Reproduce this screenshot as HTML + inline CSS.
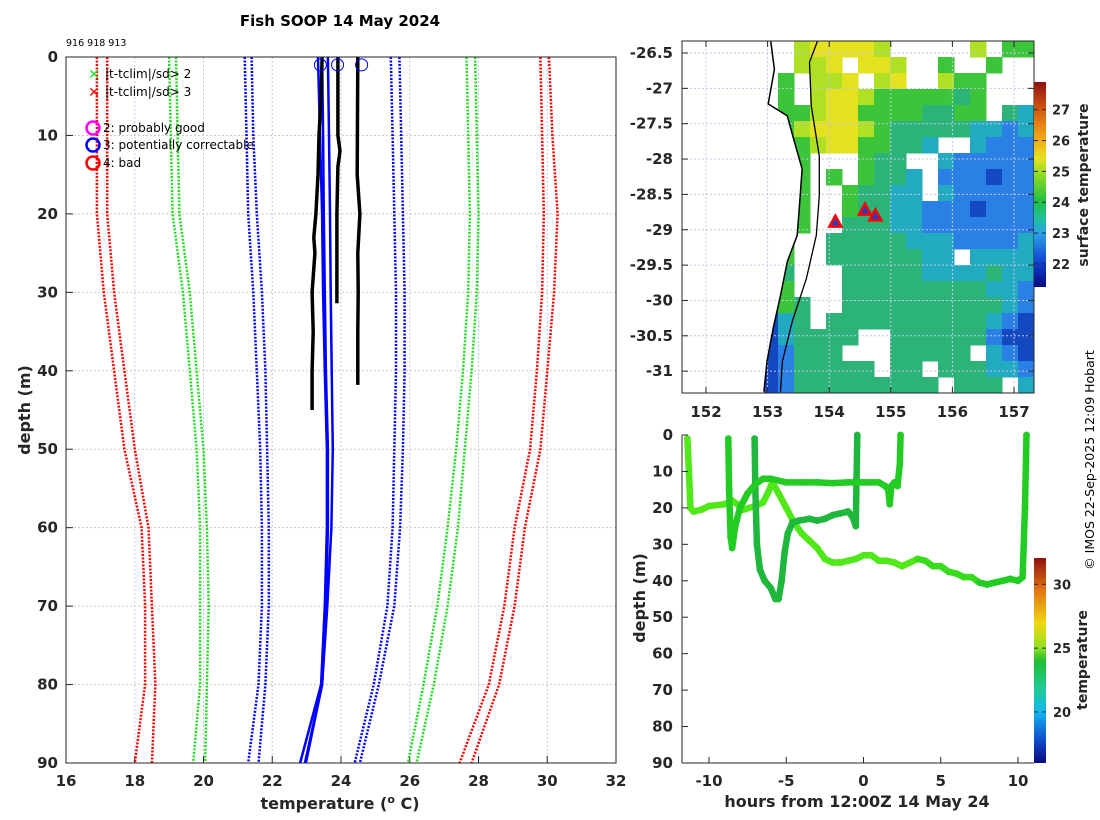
<!DOCTYPE html>
<html><head><meta charset="utf-8"><style>
body{margin:0;background:#fff;}
svg{display:block;font-family:"DejaVu Sans","Liberation Sans",sans-serif;}
.tk{font-size:15px;font-weight:bold;fill:#262626;}
.lg{font-size:12px;fill:#000;}
</style></head><body>
<svg id="fig" width="1100" height="820" viewBox="0 0 1100 820" xmlns="http://www.w3.org/2000/svg">
<defs>
<linearGradient id="sstgrad" x1="0" y1="1" x2="0" y2="0">
<stop offset="0" stop-color="#0a0a80"/><stop offset="0.12" stop-color="#1040d0"/><stop offset="0.26" stop-color="#2aa0e8"/><stop offset="0.33" stop-color="#20c0a0"/><stop offset="0.42" stop-color="#20c040"/><stop offset="0.56" stop-color="#9be020"/><stop offset="0.63" stop-color="#e8e020"/><stop offset="0.74" stop-color="#f0a010"/><stop offset="0.88" stop-color="#d05010"/><stop offset="1" stop-color="#901010"/>
</linearGradient>
<linearGradient id="tgrad" x1="0" y1="1" x2="0" y2="0">
<stop offset="0" stop-color="#0a0a80"/><stop offset="0.12" stop-color="#1050d0"/><stop offset="0.25" stop-color="#10b8f0"/><stop offset="0.35" stop-color="#20c8a0"/><stop offset="0.5" stop-color="#20c030"/><stop offset="0.56" stop-color="#90e020"/><stop offset="0.68" stop-color="#f0d810"/><stop offset="0.85" stop-color="#e07010"/><stop offset="1" stop-color="#901010"/>
</linearGradient>
<clipPath id="ocean"><path id="oceanpath" d=""/></clipPath>
<clipPath id="leftclip"><rect x="66" y="57" width="550" height="706"/></clipPath>
</defs>
<text x="340" y="26" text-anchor="middle" style="font-size:15px;font-weight:bold">Fish SOOP 14 May 2024</text>
<text x="66" y="46" style="font-size:9.5px">916 918 913</text>
<g id="left"></g>
<g id="map"></g>
<g id="sect"></g>
<text transform="translate(1094,460) rotate(-90)" text-anchor="middle" style="font-size:12.5px">© IMOS 22-Sep-2025 12:09 Hobart</text>
</svg>
<script>
const NS="http://www.w3.org/2000/svg";
// ---------- Left panel data ----------
const climDepths=[0,10,20,30,40,50,60,70,80,90];
const redL1=[16.9,16.9,16.9,17.1,17.4,17.7,18.2,18.3,18.3,18.0];
const redL2=[17.2,17.2,17.2,17.4,17.7,18.0,18.4,18.5,18.6,18.5];
const greenL1=[19.0,19.05,19.1,19.4,19.6,19.8,19.9,19.9,19.9,19.7];
const greenL2=[19.2,19.25,19.3,19.6,19.8,20.0,20.1,20.15,20.1,20.05];
const blueL1=[21.2,21.25,21.3,21.45,21.55,21.65,21.7,21.7,21.6,21.3];
const blueL2=[21.4,21.45,21.55,21.7,21.8,21.85,21.9,21.9,21.8,21.6];
const blueR1=[25.45,25.5,25.55,25.6,25.6,25.55,25.5,25.35,24.95,24.4];
const blueR2=[25.7,25.75,25.8,25.85,25.85,25.8,25.72,25.55,25.1,24.55];
const greenR1=[27.65,27.7,27.75,27.7,27.55,27.35,27.1,26.8,26.4,25.95];
const greenR2=[27.9,27.95,28.0,27.95,27.8,27.6,27.4,27.1,26.7,26.2];
const redR1=[29.8,29.85,29.9,29.85,29.7,29.5,29.05,28.75,28.3,27.45];
const redR2=[30.05,30.15,30.3,30.2,30.0,29.8,29.35,29.05,28.6,27.8];
const blueP1=[23.33,23.39,23.45,23.48,23.53,23.59,23.59,23.53,23.42,22.81];
const blueP2=[23.45,23.48,23.5,23.53,23.56,23.62,23.62,23.56,23.45,22.98];
const blueP3=[23.62,23.65,23.68,23.7,23.73,23.76,23.72,23.6,23.45,22.95];
const blk1Depth=[0,5,10,15,20,23,25,30,35,40,45];
const blk1Temp=[23.45,23.42,23.36,23.33,23.27,23.21,23.24,23.16,23.19,23.16,23.16];
const blk2Depth=[0,10,12,14,20,31.4];
const blk2Temp=[23.91,23.91,23.97,23.91,23.88,23.88];
const blk3Depth=[0,15,20,25,30,35,41.8];
const blk3Temp=[24.49,24.47,24.55,24.49,24.5,24.49,24.49];
const flagTemps=[23.4,23.9,24.6];
const flagDepths=[1,1,1];
const tTicks=[16,18,20,22,24,26,28,30,32];
const dTicks=[0,10,20,30,40,50,60,70,80,90];

// ---------- Map data ----------
const lonTicks=[152,153,154,155,156,157];
const latTicks=[-26.5,-27,-27.5,-28,-28.5,-29,-29.5,-30,-30.5,-31];
const sstTicks=[22,23,24,25,26,27];
const dropLons=[154.1,154.58,154.75];
const dropLats=[-28.9,-28.73,-28.81];
const sstRows=[
"       lyyyyl     l gg",
"       lly yyl  g  g  ",
"      g lly ly  lgg   ",
"      g lyylgggggmg   ",
"      gglyyggggmmgg mt",
"     mglyyylgmmmmmttbt",
"     mgglyyggmmt  tbbb",
"     mgg   gmm  tbbbbb",
"     mgg g gmmt bbbdbb",
"     tgg  gmmtt tbbbbb",
"     tgg  gmmttbbbdbbb",
"     tgg  mmmttbbbbbbb",
"     tg  mmmmmtttbbbbt",
"     dg  mmmmmmtt tttt",
"     dm   mmmmmttttmtt",
"     dg   mmmmmmmmmttb",
"     dgm  mmmmmmmmmmtb",
"     dtm mmmmmmmmmmtbd",
"     dtmmmm  mmmmmmbdd",
"     dbmmm   mmmmm tbd",
"     dbmmmmm mm mmmttb",
"     dbmmmmmmmmm mmm t"];
const sstColors={y:"#e4e21e",l:"#b0e024",g:"#3cc43a",m:"#2cb478",t:"#22aac0",b:"#2a80e4",d:"#1448c0"};
const coastLon=[153.05,153.11,153.01,153.32,153.42,153.56,153.53,153.48,153.32,153.21,153.09,152.99,152.94];
const coastLat=[-26.33,-26.73,-27.22,-27.39,-27.71,-28.14,-28.52,-29.08,-29.45,-29.93,-30.4,-30.86,-31.29];
const isoLon=[153.81,153.68,153.71,153.84,153.84,153.79,153.63,153.4,153.24,153.21];
const isoLat=[-26.33,-26.63,-27.25,-27.96,-28.52,-29.08,-29.69,-30.3,-30.86,-31.29];

// ---------- Section data ----------
const hTicks=[-10,-5,0,5,10];
const sdTicks=[0,10,20,30,40,50,60,70,80,90];
const tcTicks=[20,25,30];
const tr1Hours=[-11.4,-11.3,-11.2,-11,-10.5,-10,-9,-8.5,-8,-7.8,-7,-6.5,-6.2,-5.9,-5.5,-5,-4.5,-4,-3.5,-3,-2.5,-2,-1.5,-1,-0.5,0,0.5,1,1.5,2,2.5,3,3.5,4,4.5,5,5.5,6,6.5,7,7.5,8,8.5,9,9.5,10,10.3,10.45,10.55];
const tr1Depth=[1,10,20,21,20.5,19.5,19,18,19.5,20.5,19.5,18.5,16,13,16,20,24,27,29,31,34,35,35,34.5,34,33,33,34.5,34.5,35,36,35,34,34.5,36,36,37.5,38,39,39,40.5,41,40.5,40,39.5,40,39,20,0];
const tr1Temp=[24.6,24.6,24.6,24.6,24.6,24.6,24.6,24.6,24.6,24.6,24.6,24.6,24.6,24.6,24.6,24.6,24.6,24.6,24.6,24.6,24.7,24.7,24.7,24.7,24.7,24.7,24.7,24.6,24.6,24.6,24.6,24.6,24.5,24.5,24.4,24.4,24.4,24.3,24.3,24.3,24.2,24.2,24.2,24.2,24.2,24.2,24.2,24.2,24.2];
const tr2Hours=[-8.75,-8.7,-8.6,-8.5,-8.3,-8,-7.5,-7,-6.5,-6,-5,-4,-3,-2,-1,0,0.5,1,1.4,1.6,1.7,1.8,2,2.2,2.35,2.4];
const tr2Depth=[1,15,28,31,25,20,16,13.5,12,12,13,13,13,13.2,13,13,13,13,14,15,19,14,13,14,8,0];
const tr2Temp=[24.2,24.2,24.2,24.2,24.2,24.1,24.1,24.1,24.1,24.1,24.1,24.1,24.1,24.1,24.1,24.1,24.1,24.1,24.1,24.1,24.1,24.1,24.1,24.1,24.1,24.1];
const tr3Hours=[-7.05,-7,-6.9,-6.7,-6.4,-6,-5.7,-5.5,-5.3,-5.1,-4.9,-4.6,-4.2,-3.5,-3,-2.5,-2,-1.5,-1,-0.7,-0.5,-0.45,-0.4];
const tr3Depth=[1,15,30,37,40,42,45,45,40,32,27,24,23.5,23,23.5,23,22,21.5,21,22.5,25,12,0];
const tr3Temp=[23.6,23.6,23.6,23.6,23.6,23.5,23.5,23.5,23.5,23.6,23.6,23.6,23.6,23.6,23.6,23.6,23.6,23.6,23.6,23.6,23.6,23.6,23.6];

// ---------- helpers ----------
function mk(tag,attrs,parent){const e=document.createElementNS(NS,tag);for(const k in attrs)e.setAttribute(k,attrs[k]);parent.appendChild(e);return e;}
function txt(parent,x,y,s,cls,anchor){const t=mk("text",{x:x,y:y,"class":cls,"text-anchor":anchor||"middle"},parent);t.textContent=s;return t;}

// ---------- Left panel ----------
const L=document.getElementById("left");
const lx=t=>66+(t-16)*550/16;
const ly=d=>57+d*706/90;
tTicks.forEach(t=>{const g=mk("line",{x1:lx(t),x2:lx(t),y1:57,y2:763,stroke:"#c0c8e8","stroke-width":1,"stroke-dasharray":"2,2"},L);


const lb=txt(L,lx(t),786,String(t),"tk");


mk("line",{x1:lx(t),x2:lx(t),y1:763,y2:756,stroke:"#262626"},L);});
dTicks.forEach(d=>{const g=mk("line",{x1:66,x2:616,y1:ly(d),y2:ly(d),stroke:"#d8c8b8","stroke-width":1,"stroke-dasharray":"2,2"},L);


const lb=txt(L,58,ly(d)+5,String(d),"tk","end");


mk("line",{x1:66,x2:73,y1:ly(d),y2:ly(d),stroke:"#262626"},L);});
const clim=[[redL1,"#ff0000","red-climatology-low"],[redL2,"#ff0000","red-climatology-low"],[greenL1,"#22dd22","green-climatology-low"],[greenL2,"#22dd22","green-climatology-low"],[blueL1,"#0000ff","blue-climatology-low"],[blueL2,"#0000ff","blue-climatology-low"],[blueR1,"#0000ff","blue-climatology-high"],[blueR2,"#0000ff","blue-climatology-high"],[greenR1,"#22dd22","green-climatology-high"],[greenR2,"#22dd22","green-climatology-high"],[redR1,"#ff0000","red-climatology-high"],[redR2,"#ff0000","red-climatology-high"]];
const LG=mk("g",{"clip-path":"url(#leftclip)"},L);
clim.forEach(c=>{const pts=c[0].map((t,i)=>lx(t).toFixed(1)+","+ly(climDepths[i]).toFixed(1)).join(" ");
const p=mk("polyline",{points:pts,fill:"none",stroke:c[1],"stroke-width":2.5,"stroke-dasharray":"2,1.5"},LG);

});
[blueP1,blueP2,blueP3].forEach(arr=>{const pts=arr.map((t,i)=>lx(t).toFixed(1)+","+ly(climDepths[i]).toFixed(1)).join(" ");
const p=mk("polyline",{points:pts,fill:"none",stroke:"#0000ff","stroke-width":2.5},LG);

});
[[blk1Temp,blk1Depth],[blk2Temp,blk2Depth],[blk3Temp,blk3Depth]].forEach(a=>{const pts=a[0].map((t,i)=>lx(t).toFixed(1)+","+ly(a[1][i]).toFixed(1)).join(" ");
const p=mk("polyline",{points:pts,fill:"none",stroke:"#000","stroke-width":3.5},LG);

});
flagTemps.forEach((t,i)=>{const c=mk("circle",{cx:lx(t),cy:ly(flagDepths[i]),r:6,fill:"none",stroke:"#0000ff","stroke-width":1},L);

});
mk("rect",{x:66,y:57,width:550,height:706,fill:"none",stroke:"#262626","stroke-width":1},L);
// legend
const leg=mk("g",{},L);


[[74,"#22dd22","|t-tclim|/sd> 2"],[92,"#ff0000","|t-tclim|/sd> 3"]].forEach(r=>{
const e=txt(leg,94,r[0]+5,"✕","", "middle");e.setAttribute("style","font-size:14px;font-weight:bold;fill:"+r[1]);


const t=txt(leg,105,r[0]+4,r[2],"lg","start");

});
[[128,"#ff00ff","2: probably good"],[145,"#0000ff","3: potentially correctable"],[163,"#ff0000","4: bad"]].forEach(r=>{
const c=mk("circle",{cx:93,cy:r[0],r:6.5,fill:"none",stroke:r[1],"stroke-width":2.5},leg);


const t=txt(leg,103,r[0]+4,r[2],"lg","start");

});
const yl=txt(L,0,0,"depth (m)","tk");yl.setAttribute("transform","translate(30,410) rotate(-90)");yl.setAttribute("style","font-size:16px");


const xl=mk("text",{x:340,y:809,"text-anchor":"middle","class":"tk",style:"font-size:16px"},L);
xl.innerHTML='temperature (<tspan dy="-6" style="font-size:11px">o</tspan><tspan dy="6"> C)</tspan>';



// ---------- Map ----------
const M=document.getElementById("map");
const mx=l=>706+(l-152)*61.6;
const my=la=>53+(-26.5-la)*70.7;
let od="M"+mx(coastLon[0])+",41 ";
coastLon.forEach((l,i)=>{od+="L"+mx(l).toFixed(1)+","+my(coastLat[i]).toFixed(1)+" ";});
od+="L764,393 L1034,393 L1034,41 Z";
document.getElementById("oceanpath").setAttribute("d",od);
const cells=mk("g",{"clip-path":"url(#ocean)"},M);


sstRows.forEach((row,r)=>{for(let c=0;c<row.length;c++){const ch=row[c];if(sstColors[ch]){
const cell=mk("rect",{x:682+16*c,y:41+16*r,width:16.5,height:16.5,fill:sstColors[ch]},cells);

}}});
lonTicks.forEach(l=>{mk("line",{x1:mx(l),x2:mx(l),y1:41,y2:393,stroke:"#c0c8e8","stroke-dasharray":"2,2"},M);
mk("line",{x1:mx(l),x2:mx(l),y1:393,y2:387,stroke:"#262626"},M);
mk("line",{x1:mx(l),x2:mx(l),y1:41,y2:47,stroke:"#262626"},M);
const lb=txt(M,mx(l),417,String(l),"tk");

});
latTicks.forEach(la=>{mk("line",{x1:682,x2:1034,y1:my(la),y2:my(la),stroke:"#c0c8e8","stroke-dasharray":"2,2"},M);
mk("line",{x1:682,x2:688,y1:my(la),y2:my(la),stroke:"#262626"},M);
mk("line",{x1:1028,x2:1034,y1:my(la),y2:my(la),stroke:"#262626"},M);
const lb=txt(M,673,my(la)+5,String(la),"tk","end");

});
const coast=mk("polyline",{points:coastLon.map((l,i)=>mx(l).toFixed(1)+","+my(coastLat[i]).toFixed(1)).join(" "),fill:"none",stroke:"#000","stroke-width":1.5},M);


const iso=mk("polyline",{points:isoLon.map((l,i)=>mx(l).toFixed(1)+","+my(isoLat[i]).toFixed(1)).join(" "),fill:"none",stroke:"#000","stroke-width":1.3},M);


dropLons.forEach((l,i)=>{const x=mx(l),y=my(dropLats[i]);
const tri=mk("polygon",{points:`${x},${y-7} ${x-6},${y+4} ${x+6},${y+4}`,fill:"#2040c0",stroke:"#ff0000","stroke-width":2.5},M);

});
mk("rect",{x:682,y:41,width:352,height:352,fill:"none",stroke:"#262626"},M);
const cby=v=>287-(v-21.25)*205/6.65;
const cb1=mk("rect",{x:1034,y:82,width:12,height:205,fill:"url(#sstgrad)"},M);


sstTicks.forEach(v=>{mk("line",{x1:1034,x2:1038,y1:cby(v),y2:cby(v),stroke:"#262626"},M);mk("line",{x1:1042,x2:1046,y1:cby(v),y2:cby(v),stroke:"#262626"},M);
const lb=txt(M,1052,cby(v)+5,String(v),"tk","start");lb.setAttribute("style","font-size:13px");

});
const st=txt(M,0,0,"surface temperature","tk");st.setAttribute("transform","translate(1088,185) rotate(-90)");st.setAttribute("style","font-size:14px");



// ---------- Section ----------
const S=document.getElementById("sect");
const sx=h=>709+(h+10)*15.45;
const sy=d=>435+d*328/90;
const tcol=v=>{ if(v<23.8)return "#20b83c"; if(v<24.3)return "#22cc22"; if(v<24.55)return "#38dc1c"; return "#50e818";};
[[tr1Hours,tr1Depth,tr1Temp,"track-1"],[tr3Hours,tr3Depth,tr3Temp,"track-3"],[tr2Hours,tr2Depth,tr2Temp,"track-2"]].forEach(tr=>{
const g=mk("g",{},S);


for(let i=0;i<tr[0].length-1;i++){const ln=mk("line",{x1:sx(tr[0][i]),y1:sy(tr[1][i]),x2:sx(tr[0][i+1]),y2:sy(tr[1][i+1]),stroke:tcol(tr[2][i]),"stroke-width":6.5,"stroke-linecap":"round"},g);

}
tr[0].forEach((h,i)=>{const c=mk("circle",{cx:sx(h),cy:sy(tr[1][i]),r:3.4,fill:tcol(tr[2][i])},g);

});});
mk("line",{x1:682,x2:682,y1:435,y2:763,stroke:"#262626"},S);
mk("line",{x1:682,x2:1034,y1:763,y2:763,stroke:"#262626"},S);
hTicks.forEach(h=>{mk("line",{x1:sx(h),x2:sx(h),y1:763,y2:757,stroke:"#262626"},S);
const lb=txt(S,sx(h),786,String(h),"tk");

});
sdTicks.forEach(d=>{mk("line",{x1:682,x2:688,y1:sy(d),y2:sy(d),stroke:"#262626"},S);
const lb=txt(S,673,sy(d)+5,String(d),"tk","end");

});
const sxl=txt(S,857,807,"hours from 12:00Z 14 May 24","tk");sxl.setAttribute("style","font-size:16px");


const syl=txt(S,0,0,"depth (m)","tk");syl.setAttribute("transform","translate(645,598) rotate(-90)");syl.setAttribute("style","font-size:16px");


const tcy=v=>763-(v-16)*205/16.06;
const cb2=mk("rect",{x:1034,y:558,width:12,height:205,fill:"url(#tgrad)"},S);


tcTicks.forEach(v=>{mk("line",{x1:1034,x2:1038,y1:tcy(v),y2:tcy(v),stroke:"#262626"},S);mk("line",{x1:1042,x2:1046,y1:tcy(v),y2:tcy(v),stroke:"#262626"},S);
const lb=txt(S,1053,tcy(v)+5,String(v),"tk","start");lb.setAttribute("style","font-size:13px");

});
const tl=txt(S,0,0,"temperature","tk");tl.setAttribute("transform","translate(1087,660) rotate(-90)");tl.setAttribute("style","font-size:14px");


</script>
</body></html>
